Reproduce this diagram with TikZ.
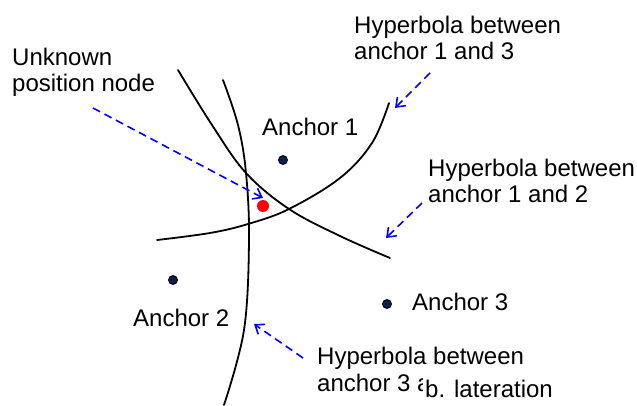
\documentclass[tikz,border=0pt]{standalone}
\usepackage{fontspec}
\setmainfont{Liberation Sans}
\usetikzlibrary{arrows.meta}
\definecolor{navy}{RGB}{10,30,80}
\begin{document}
\begin{tikzpicture}[x=1pt,y=-1pt,
  curve/.style={line width=1.8pt, black, line cap=round},
  pointer/.style={blue, line width=1.6pt, dash pattern=on 8pt off 5pt,
    -{Straight Barb[length=8pt,width=12pt,line width=1.6pt]}},
  lbl/.style={anchor=base west, inner sep=0pt, font=\fontsize{24}{26.5}\selectfont, align=left},
  anchordot/.style={circle, draw=black, fill=navy, line width=0.8pt, minimum size=9pt, inner sep=0pt},
  reddot/.style={circle, fill=red, minimum size=12pt, inner sep=0pt},
  coverbox/.style={anchor=base west, fill=white, inner sep=0pt, inner xsep=2pt,
    text height=24pt, text depth=9pt, font=\fontsize{24}{26.5}\selectfont}]
\useasboundingbox (0,0) rectangle (637,406);
% hyperbolas
\draw[curve] plot[smooth, tension=0.6] coordinates {(178,70) (212,125) (246,173) (289,209) (340,236) (390,258)};
\draw[curve] plot[smooth, tension=0.6] coordinates {(223,80) (238,125) (246,173) (249,240) (244,330) (224,405)};
\draw[curve] plot[smooth, tension=0.6] coordinates {(157,240) (210,233) (248,224) (289,209) (340,178) (372,143) (389,103)};
% anchors
\node[anchordot] (a1) at (283,160) {};
\node[anchordot] (a2) at (173,280) {};
\node[anchordot] (a3) at (387,304) {};
\node[reddot] (u) at (263,206) {};
% labels (base = baseline of the last line)
\node[lbl] (l1) at (262,136) {Anchor 1};
\node[lbl] (l2) at (133,326) {Anchor 2};
\node[lbl] (l3) at (412,310) {Anchor 3};
\node[lbl] (lu) at (12,92) {Unknown\\position node};
\node[lbl] (h13) at (354,60) {Hyperbola between\\anchor 1 and 3};
\node[lbl] (h12) at (428,203) {Hyperbola between\\anchor 1 and 2};
\node[lbl] (h32) at (317,391) {Hyperbola between\\anchor 3 and 2};
\node[coverbox] (cap) at (423,397) {b. lateration};
% pointers
\coordinate (p1s) at (93,108);  \coordinate (p1e) at (263,198);
\coordinate (p2s) at (430,73);  \coordinate (p2e) at (395,108);
\coordinate (p3s) at (422,203); \coordinate (p3e) at (386,238);
\coordinate (p4s) at (303,358); \coordinate (p4e) at (254,324);
\draw[pointer] (p1s) -- (p1e);
\draw[pointer] (p2s) -- (p2e);
\draw[pointer] (p3s) -- (p3e);
\draw[pointer] (p4s) -- (p4e);
\end{tikzpicture}
\end{document}
